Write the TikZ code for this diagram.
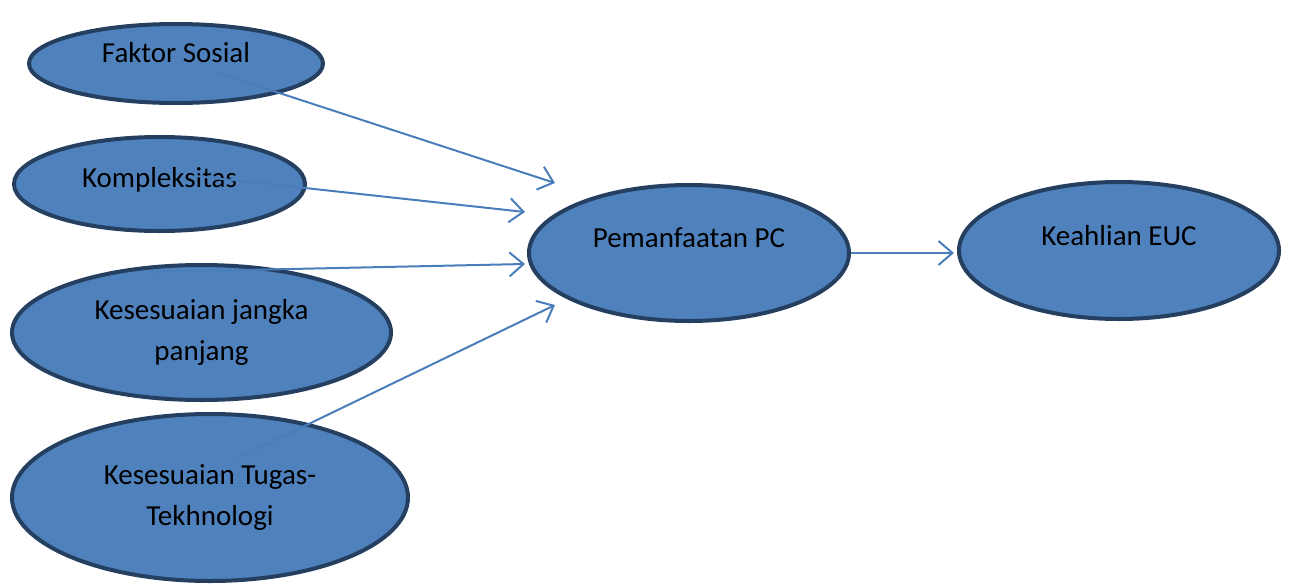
\documentclass[tikz,border=0pt]{standalone}
\usepackage{fontspec}
\setmainfont{Carlito}
\usetikzlibrary{shapes.geometric,arrows.meta}

\definecolor{ovalfill}{HTML}{4F81BD}
\definecolor{ovalline}{HTML}{243F60}
\definecolor{arrowline}{HTML}{4A7EBB}

\begin{document}
\begin{tikzpicture}[x=1pt,y=-1pt]
    \useasboundingbox (0,0) rectangle (1289,584);

    \begin{scope}[every node/.style={ellipse, fill=ovalfill, draw=ovalline, line width=4pt, inner sep=0pt, align=center, font=\fontsize{29}{41}\selectfont}]
        \node[minimum width=294pt, minimum height=79pt, text depth=23pt] (fs) at (176,63.5) {Faktor Sosial};
        \node[minimum width=291pt, minimum height=94pt, text depth=13pt] (ko) at (159.5,184) {Kompleksitas};
        \node[minimum width=379pt, minimum height=135pt] (kj) at (201.5,332.5) {Kesesuaian jangka\\panjang};
        \node[minimum width=396pt, minimum height=167pt] (kt) at (210,497.5) {Kesesuaian Tugas-\\Tekhnologi};
        \node[minimum width=320pt, minimum height=136pt, text depth=30pt] (pc) at (689,253) {Pemanfaatan PC};
        \node[minimum width=320pt, minimum height=137pt, text depth=30pt] (euc) at (1119,250.5) {Keahlian EUC};
    \end{scope}

    % tails sit inside the source ovals, heads stop short of the target
    \coordinate (fs-tail) at (215,72);
    \coordinate (ko-tail) at (195,176);
    \coordinate (kj-tail) at (150,272);
    \coordinate (kt-tail) at (230,462);
    \coordinate (fs-head) at (555,183);
    \coordinate (ko-head) at (525,212);
    \coordinate (kj-head) at (525,264);
    \coordinate (kt-head) at (555,305);

    \begin{scope}[every edge/.style={draw=arrowline, line width=2pt, -{Straight Barb[length=14pt,width=24pt,line width=2pt]}}]
        \path (fs-tail) edge (fs-head);
        \path (ko-tail) edge (ko-head);
        \path (kj-tail) edge (kj-head);
        \path (kt-tail) edge (kt-head);
        \path (pc.east) edge[shorten >=3pt] (pc.east -| euc.west);
    \end{scope}
\end{tikzpicture}
\end{document}
